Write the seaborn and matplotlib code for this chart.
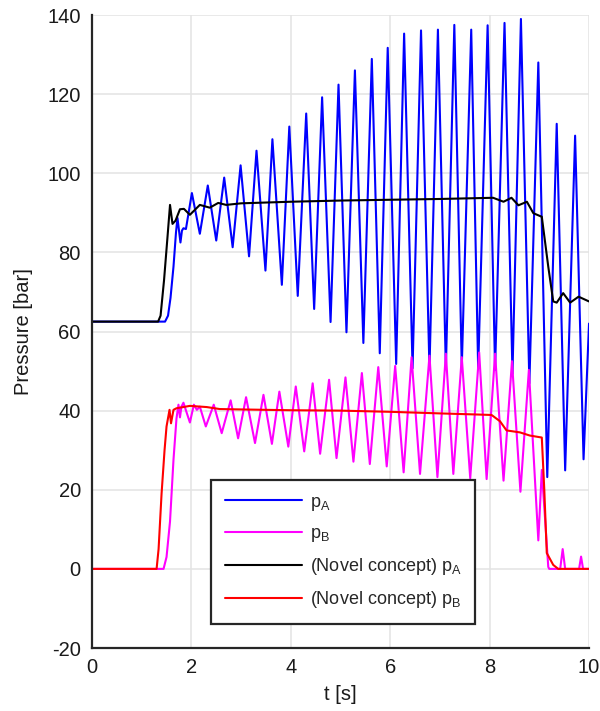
import numpy as np
import pandas as pd
import matplotlib
matplotlib.use("Agg")
import matplotlib.pyplot as plt
import seaborn as sns

# Measured pressure traces: time [s] and pressure [bar]
t_pa = [0.0, 1.47, 1.53, 1.58, 1.64, 1.69, 1.72, 1.78, 1.81, 1.84, 1.89,
        2.01, 2.17, 2.33, 2.50, 2.66, 2.83, 2.99, 3.16, 3.31, 3.49, 3.63,
        3.82, 3.97, 4.14, 4.31, 4.47, 4.63, 4.80, 4.96, 5.12, 5.29, 5.46,
        5.63, 5.79, 5.95, 6.12, 6.28, 6.45, 6.62, 6.79, 6.96, 7.12, 7.29,
        7.44, 7.63, 7.77, 7.96, 8.11, 8.30, 8.46, 8.63, 8.80, 8.98, 9.16,
        9.35, 9.52, 9.72, 9.89, 10.0]
p_a = [62.5, 62.5, 64.0, 68.5, 76.4, 85.0, 88.7, 82.5, 85.5, 86.1, 85.9,
       95.0, 84.7, 96.9, 83.0, 98.9, 81.3, 102.0, 79.0, 105.7, 75.4, 108.6,
       71.8, 111.8, 69.0, 115.1, 65.7, 119.2, 62.4, 122.4, 59.8, 126.0, 57.1,
       128.9, 54.5, 131.7, 51.8, 135.3, 50.7, 136.1, 50.5, 136.3, 50.5, 137.5,
       51.0, 136.3, 50.5, 137.4, 50.3, 138.0, 49.3, 139.0, 46.9, 128.0, 23.2,
       112.5, 24.9, 109.5, 27.7, 62.0]

t_pb = [0.0, 1.44, 1.50, 1.57, 1.64, 1.70, 1.74, 1.77, 1.80, 1.84, 1.97,
        2.05, 2.11, 2.17, 2.29, 2.45, 2.61, 2.79, 2.94, 3.10, 3.28, 3.45,
        3.62, 3.77, 3.95, 4.10, 4.27, 4.44, 4.59, 4.77, 4.92, 5.10, 5.26,
        5.43, 5.59, 5.76, 5.93, 6.10, 6.27, 6.43, 6.60, 6.79, 6.95, 7.12,
        7.27, 7.44, 7.61, 7.79, 7.94, 8.11, 8.28, 8.45, 8.62, 8.79, 8.98,
        9.05, 9.18, 9.20, 9.42, 9.47, 9.52, 9.80, 9.84, 9.88, 10.0]
p_b = [0.0, 0.0, 3.0, 12.0, 27.6, 38.0, 41.5, 38.3, 41.0, 42.0, 37.0,
       41.5, 40.2, 41.0, 36.0, 41.5, 34.3, 42.6, 33.0, 43.4, 31.8, 44.0,
       31.6, 44.8, 30.9, 46.1, 29.7, 46.9, 29.1, 47.8, 28.0, 48.4, 27.1,
       49.5, 26.5, 51.0, 25.9, 51.3, 24.4, 53.5, 24.0, 53.9, 23.2, 54.4,
       24.0, 53.5, 22.9, 54.7, 22.7, 54.4, 22.3, 52.5, 19.5, 50.3, 7.2,
       25.0, 0.5, 0.0, 0.0, 5.0, 0.0, 0.0, 3.1, 0.0, 0.0]

t_pa_nc = [0.0, 1.33, 1.38, 1.45, 1.52, 1.57, 1.62, 1.68, 1.77, 1.85, 1.97,
           2.17, 2.37, 2.54, 2.70, 3.0, 3.5, 4.0, 5.0, 6.0, 7.0, 8.07,
           8.28, 8.44, 8.58, 8.75, 8.88, 9.05, 9.18, 9.28, 9.35, 9.48, 9.62,
           9.79, 10.0]
p_a_nc = [62.5, 62.5, 64.0, 73.0, 84.0, 92.0, 87.2, 88.0, 90.9, 91.0, 89.5,
          92.0, 91.3, 92.5, 92.0, 92.4, 92.6, 92.8, 93.1, 93.3, 93.5, 93.8,
          92.8, 93.8, 91.9, 92.8, 89.9, 89.0, 76.4, 67.6, 67.3, 69.7, 67.3,
          68.8, 67.6]

t_pb_nc = [0.0, 1.30, 1.34, 1.40, 1.46, 1.50, 1.56, 1.59, 1.64, 1.70, 1.97,
           2.31, 2.57, 3.0, 4.0, 5.0, 6.0, 7.0, 7.8, 8.04, 8.21, 8.34,
           8.61, 8.81, 9.05, 9.10, 9.15, 9.28, 9.38, 10.0]
p_b_nc = [0.0, 0.0, 5.0, 19.0, 30.0, 36.0, 40.2, 36.8, 40.2, 40.6, 41.2,
          40.9, 40.4, 40.3, 40.1, 40.0, 39.7, 39.3, 39.0, 38.9, 37.3, 35.0,
          34.5, 33.7, 33.2, 20.0, 4.0, 1.0, 0.0, 0.0]

labels = [r"p$_{\mathregular{A}}$", r"p$_{\mathregular{B}}$",
          r"(Novel concept) p$_{\mathregular{A}}$",
          r"(Novel concept) p$_{\mathregular{B}}$"]
colors = ["#0000ff", "#ff00ff", "#000000", "#ff0000"]

frames = []
for lab, t, p in zip(labels, [t_pa, t_pb, t_pa_nc, t_pb_nc],
                     [p_a, p_b, p_a_nc, p_b_nc]):
    frames.append(pd.DataFrame({"t": t, "p": p, "series": lab}))
df = pd.concat(frames, ignore_index=True)

sns.set_style("white")
plt.rcParams["font.family"] = ["Liberation Sans", "DejaVu Sans"]
plt.rcParams["mathtext.fontset"] = "custom"
plt.rcParams["mathtext.rm"] = "Liberation Sans"
plt.rcParams["mathtext.it"] = "Liberation Sans:italic"
plt.rcParams["axes.unicode_minus"] = False

fig = plt.figure(figsize=(6.0, 7.11), dpi=100)
ax = fig.add_axes([0.1533, 0.0886, 0.8284, 0.8903])

sns.lineplot(data=df, x="t", y="p", hue="series", hue_order=labels,
             palette=dict(zip(labels, colors)), estimator=None, sort=False,
             linewidth=1.5, ax=ax, legend=True)

ax.set_xlim(0, 10)
ax.set_ylim(-20, 140)
ax.set_xticks(np.arange(0, 11, 2))
ax.set_yticks(np.arange(-20, 141, 20))
ax.grid(True, color="#e3e3e3", linewidth=1.1)
ax.set_axisbelow(True)

for side in ["top", "right"]:
    ax.spines[side].set_visible(False)
for side in ["left", "bottom"]:
    ax.spines[side].set_color("#262626")
    ax.spines[side].set_linewidth(1.6)

ax.tick_params(direction="in", length=6, width=1.6, color="#262626",
               labelsize=14.5, labelcolor="#1a1a1a")
ax.tick_params(axis="y", pad=8)
ax.tick_params(axis="x", pad=7)

ax.set_xlabel("t [s]", fontsize=14.5, color="#1a1a1a", labelpad=6)
ax.set_ylabel("Pressure [bar]", fontsize=14.5, color="#1a1a1a", labelpad=10)

handles, labs = ax.get_legend_handles_labels()
leg = ax.legend(handles, labs, loc="upper left",
                bbox_to_anchor=(0.2394, 0.2654), borderaxespad=0,
                fontsize=13, handlelength=4.3, handletextpad=0.45,
                borderpad=0.75, labelspacing=0.68, fancybox=False,
                framealpha=1, edgecolor="#262626")
leg.get_frame().set_linewidth(1.6)

fig.savefig("out.png", dpi=100)
